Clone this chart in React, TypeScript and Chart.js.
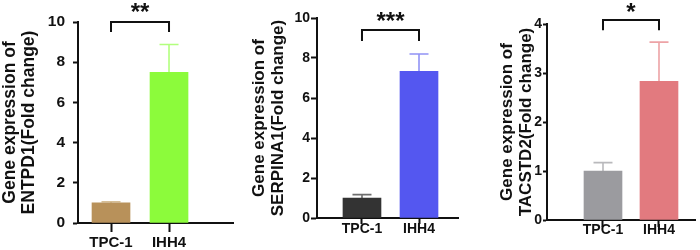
import React, { useEffect, useRef } from 'react';
import { Chart, registerables } from 'chart.js';

Chart.register(...registerables);

// ---------- data ----------
const groups = ['TPC-1', 'IHH4'];
const genes = ['ENTPD1', 'SERPINA1', 'TACSTD2'];

const entpd1Mean = [1.0, 7.5];
const entpd1Err = [0.06, 1.38];
const serpina1Mean = [1.0, 7.33];
const serpina1Err = [0.17, 0.87];
const tacstd2Mean = [1.0, 2.83];
const tacstd2Err = [0.17, 0.8];

const yMaxes = [10, 10, 4];
const ySteps = [2, 2, 1];
const stars = ['**', '***', '*'];
const bracketTop = [10.0, 9.4, 4.08];
const bracketDrop = [9.5, 8.85, 3.87];

const FONT = '"Liberation Sans", Arial, Helvetica, sans-serif';
const INK = '#111111';

type Panel = {
  gene: string;
  means: number[];
  errs: number[];
  colors: string[];
  errColors: string[];
  yMax: number;
  yStep: number;
  star: string;
  bTop: number;
  bDrop: number;
  // layout
  left: number;
  width: number;
  yWidth: number;
  padTop: number;
  padRight: number;
  xHeight: number;
  xMin: number;
  xMax: number;
  titlePad: number;
  titleFont: number;
  yTick: number;
  yPad: number;
  yFont: number;
  xTick: number;
  xPad: number;
  xFont: number;
  starGap: number;
};

const panels: Panel[] = [
  {
    gene: genes[0], means: entpd1Mean, errs: entpd1Err,
    colors: ['#B8915A', '#8CFB3B'], errColors: ['#D6BE96', '#B2FF7E'],
    yMax: yMaxes[0], yStep: ySteps[0], star: stars[0], bTop: bracketTop[0], bDrop: bracketDrop[0],
    left: 0, width: 240, yWidth: 78, padTop: 22, padRight: 7, xHeight: 27,
    xMin: 0.431, xMax: 3.103, titlePad: 0, titleFont: 17.5, yTick: 5, yPad: 8, yFont: 15.5,
    xTick: 9, xPad: 2, xFont: 15, starGap: 14,
  },
  {
    gene: genes[1], means: serpina1Mean, errs: serpina1Err,
    colors: ['#333333', '#5457F0'], errColors: ['#6E6E6E', '#9193F5'],
    yMax: yMaxes[1], yStep: ySteps[1], star: stars[1], bTop: bracketTop[1], bDrop: bracketDrop[1],
    left: 240, width: 225, yWidth: 77, padTop: 18, padRight: 7, xHeight: 32,
    xMin: 0.211, xMax: 2.684, titlePad: 10, titleFont: 17, yTick: 6, yPad: 1, yFont: 14,
    xTick: 6, xPad: -3, xFont: 14, starGap: 13,
  },
  {
    gene: genes[2], means: tacstd2Mean, errs: tacstd2Err,
    colors: ['#9B9B9F', '#E27A7F'], errColors: ['#B9B9BC', '#EDA3A6'],
    yMax: yMaxes[2], yStep: ySteps[2], star: stars[2], bTop: bracketTop[2], bDrop: bracketDrop[2],
    left: 470, width: 230, yWidth: 77, padTop: 24, padRight: 5, xHeight: 30,
    xMin: 0.0, xMax: 2.643, titlePad: 28, titleFont: 17, yTick: 4, yPad: 1, yFont: 14,
    xTick: 7, xPad: -5, xFont: 14, starGap: 12,
  },
];

function makePlugin(p: Panel) {
  return {
    id: 'errAndSig',
    beforeDatasetsDraw(chart: any) {
      const ctx = chart.ctx;
      const y = chart.scales.y;
      const meta = chart.getDatasetMeta(0);
      ctx.save();
      meta.data.forEach((bar: any, i: number) => {
        const x = bar.x;
        const y0 = y.getPixelForValue(p.means[i]);
        const y1 = y.getPixelForValue(p.means[i] + p.errs[i]);
        ctx.strokeStyle = p.errColors[i];
        ctx.lineWidth = 1.6;
        ctx.beginPath();
        ctx.moveTo(x, y0 + 2);
        ctx.lineTo(x, y1);
        ctx.moveTo(x - 9.5, y1);
        ctx.lineTo(x + 9.5, y1);
        ctx.stroke();
      });
      ctx.restore();
    },
    afterDraw(chart: any) {
      const ctx = chart.ctx;
      const xs = chart.scales.x;
      const ys = chart.scales.y;
      const xa = xs.getPixelForValue(1);
      const xb = xs.getPixelForValue(2);
      const yt = ys.getPixelForValue(p.bTop);
      const yd = ys.getPixelForValue(p.bDrop);
      ctx.save();
      ctx.strokeStyle = INK;
      ctx.lineWidth = 2;
      ctx.beginPath();
      ctx.moveTo(xa, yd);
      ctx.lineTo(xa, yt);
      ctx.lineTo(xb, yt);
      ctx.lineTo(xb, yd);
      ctx.stroke();
      ctx.fillStyle = INK;
      ctx.font = `bold 24px ${FONT}`;
      ctx.textAlign = 'center';
      ctx.textBaseline = 'middle';
      ctx.fillText(p.star, (xa + xb) / 2, yt - p.starGap + 5);
      ctx.restore();
    },
  };
}

function PanelChart({ p }: { p: Panel }) {
  const ref = useRef<HTMLCanvasElement>(null);
  useEffect(() => {
    if (!ref.current) return;
    const chart = new Chart(ref.current, {
      type: 'bar',
      data: {
        datasets: [
          {
            data: p.means.map((m, i) => ({ x: i + 1, y: m })),
            backgroundColor: p.colors,
            borderWidth: 0,
            barThickness: 38,
          } as any,
        ],
      },
      options: {
        responsive: false,
        animation: false,
        devicePixelRatio: 1,
        layout: { padding: { left: 0, right: p.padRight, top: p.padTop, bottom: 0 } },
        plugins: { legend: { display: false }, tooltip: { enabled: false } },
        scales: {
          x: {
            type: 'linear',
            min: p.xMin,
            max: p.xMax,
            offset: false,
            grid: {
              display: true,
              drawOnChartArea: false,
              drawTicks: true,
              tickLength: p.xTick,
              tickWidth: 2,
              tickColor: INK,
              offset: false,
            },
            border: { display: true, width: 2, color: INK },
            ticks: {
              padding: p.xPad,
              color: INK,
              autoSkip: false,
              maxRotation: 0,
              font: { family: FONT, size: p.xFont, weight: 'bold' },
              callback: (v: any) => groups[Number(v) - 1] ?? '',
            },
            afterBuildTicks: (s: any) => {
              s.ticks = groups.map((_, i) => ({ value: i + 1 }));
            },
            afterFit: (s: any) => {
              s.height = p.xHeight;
            },
          } as any,
          y: {
            min: 0,
            max: p.yMax,
            grid: {
              display: true,
              drawOnChartArea: false,
              drawTicks: true,
              tickLength: p.yTick,
              tickWidth: 2,
              tickColor: INK,
            },
            border: { display: true, width: 2, color: INK },
            ticks: {
              stepSize: p.yStep,
              padding: p.yPad,
              color: INK,
              font: { family: FONT, size: p.yFont, weight: 'bold' },
            },
            title: {
              display: true,
              text: ['Gene expression of', `${p.gene}(Fold change)`],
              color: INK,
              font: { family: FONT, size: p.titleFont, weight: 'bold', lineHeight: 1.12 },
              padding: { top: p.titlePad, bottom: 0 },
            },
            afterFit: (s: any) => {
              s.width = p.yWidth;
            },
          } as any,
        },
      },
      plugins: [makePlugin(p)],
    });
    return () => chart.destroy();
  }, [p]);
  return (
    <canvas
      ref={ref}
      width={p.width}
      height={250}
      style={{ position: 'absolute', left: p.left, top: 0, width: p.width, height: 250 }}
    />
  );
}

export default function App() {
  return (
    <div
      style={{
        position: 'fixed',
        left: 0,
        top: 0,
        width: 700,
        height: 250,
        background: '#ffffff',
        overflow: 'hidden',
      }}
    >
      {panels.map((p) => (
        <PanelChart key={p.gene} p={p} />
      ))}
    </div>
  );
}
